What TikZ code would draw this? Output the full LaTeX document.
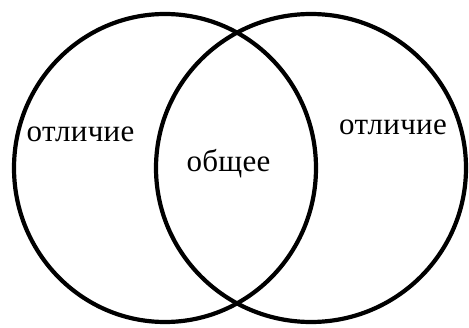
\documentclass[tikz,border=0pt]{standalone}
\usepackage{fontspec}
\newfontfamily\lblfont[LetterSpace=1]{Liberation Serif}
\begin{document}
\begin{tikzpicture}[x=1pt,y=1pt,
  ring/.style={draw=black,line width=4.2pt},
  label/.style={font=\lblfont\fontsize{31}{34}\selectfont,inner sep=0pt,anchor=base}]
\useasboundingbox (0,0) rectangle (469,327);
\fill[white] (0,0) rectangle (469,327);
\draw[ring] (165,159) ellipse [x radius=151, y radius=154];
\draw[ring] (311,159) ellipse [x radius=155, y radius=154];
\node[label] (l) at (80.5,185.3) {отличие};
\node[label] (r) at (393,192) {отличие};
\node[label] (c) at (228.5,155) {общее};
\end{tikzpicture}
\end{document}
